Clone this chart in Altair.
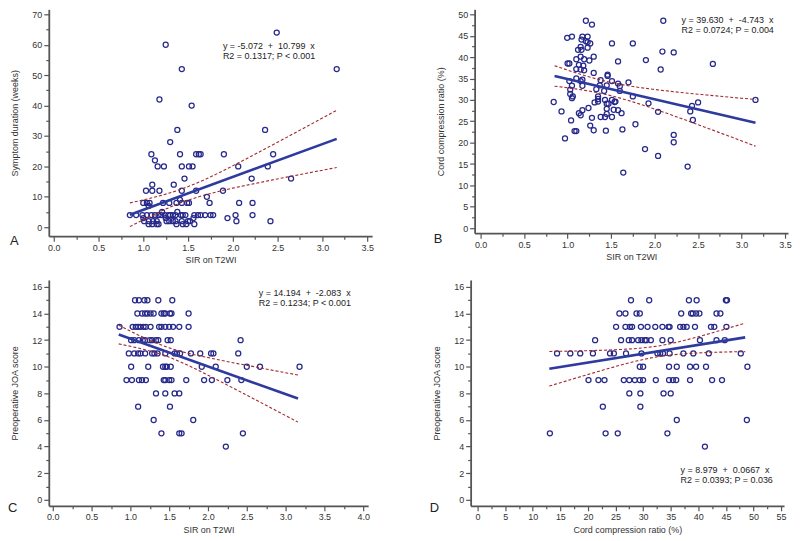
import altair as alt
import pandas as pd

FONT = "Liberation Sans, Arial, sans-serif"
NAVY = "#27298a"
BLUE = "#2e3a9e"
RED = "#a3272b"
TXT = "#333333"

# ---------------- Panel A: SIR vs symptom duration ----------------
A_sir = [2.49, 3.16, 1.25, 1.43, 1.18, 1.54, 1.38, 2.36, 1.30, 1.09, 1.41, 1.59, 1.62, 1.64, 1.90, 2.45,
         1.13, 1.16, 1.23, 1.43, 1.51, 1.55, 2.06, 2.39, 1.46, 2.21, 2.65, 1.10, 1.34, 1.03, 1.10, 1.18,
         1.43, 1.59, 1.89, 1.71, 1.00, 1.04, 1.07, 1.22, 1.29, 1.37, 1.43, 1.49, 1.51, 1.74, 2.07, 2.22,
         1.41, 1.21, 1.38, 1.06,
         0.85, 0.92, 0.99, 1.04, 1.09, 1.13, 1.17, 1.20, 1.24, 1.28, 1.30, 1.33, 1.36, 1.42, 1.44, 1.47,
         1.57, 1.61, 1.64, 1.69, 1.75, 1.78, 2.03, 2.22,
         1.56, 1.94, 1.00, 1.25,
         1.01, 1.06, 1.11, 1.15, 1.26, 1.29, 1.33, 1.36, 1.43, 1.50, 1.52, 2.04, 2.42,
         1.06, 1.10, 1.15, 1.17, 1.37, 1.44, 1.48, 1.57]
A_weeks = [64, 52, 60, 52, 42, 40, 32, 32, 28, 24, 24, 24, 24, 24, 24, 24,
           22, 20, 20, 20, 20, 20, 20, 20, 16, 16, 16, 14, 14, 12, 12, 12,
           12, 12, 12, 10, 8, 8, 8, 8, 8, 8, 8, 8, 8, 8, 8, 8,
           9, 5, 5, 7,
           4, 4, 4, 4, 4, 4, 4, 4, 4, 4, 4, 4, 4, 4, 4, 4,
           4, 4, 4, 4, 4, 4, 4, 4,
           3, 3, 3, 3,
           2, 2, 2, 2, 2, 2, 2, 2, 2, 2, 2, 2, 2,
           1, 1, 1, 1, 1, 1, 1, 1]
A_fit_x = [0.85, 3.16]
A_fit_y = [4.11, 29.05]
A_band_x = [0.85, 1.0, 1.2, 1.45, 1.7, 2.0, 2.3, 2.6, 2.9, 3.16]
A_upper = [8.0, 9.0, 10.47, 12.80, 15.87, 20.21, 24.82, 29.54, 34.31, 38.45]
A_lower = [0.2, 2.46, 5.30, 8.37, 10.70, 12.85, 14.71, 16.47, 18.18, 19.65]
A_text = ["y = -5.072 \u00a0+ \u00a010.799 \u00a0x", "R2 = 0.1317; P < 0.001"]

# ---------------- Panel B: SIR vs cord compression ratio ----------------
B_sir = [1.21, 2.10, 1.28, 0.995, 1.05, 1.17, 1.23, 1.16, 1.21, 1.23, 1.26, 1.51, 1.75,
         1.15, 1.12, 1.16, 1.23, 2.09, 2.22, 1.30, 1.15, 1.19, 1.10, 1.25, 1.58, 1.90,
         1.00, 1.02, 1.13, 1.18, 1.10, 1.15, 1.19, 2.67, 2.07, 1.30, 1.46, 1.46, 1.10,
         1.17, 1.15, 1.02, 1.38, 1.51, 1.58, 1.70, 1.05, 1.17, 1.37, 1.45, 1.60, 1.03,
         1.33, 1.60, 1.42, 1.03, 1.06, 1.05, 1.35, 1.35, 1.43, 1.51, 1.55, 1.35, 1.75,
         0.84, 1.31, 1.45, 1.47, 1.54, 1.93, 2.43, 2.50, 3.16, 1.24, 1.17, 1.13, 1.15,
         1.45, 1.53, 1.58, 1.62, 2.04, 2.41, 0.93, 1.45, 1.38, 1.43, 1.51, 1.28, 1.04,
         2.44, 1.26, 1.78, 1.08, 1.10, 1.30, 1.44, 1.63, 2.22, 2.22, 0.97, 1.89, 2.04,
         2.38, 1.64]
B_ccr = [48.5, 48.5, 47.6, 44.5, 44.8, 44.8, 44.8, 44.1, 43.7, 43.5, 43.2, 43.2, 43.2,
         42.4, 41.7, 41.7, 42.2, 41.3, 41.1, 40.1, 40.1, 39.5, 39.5, 39.2, 39.0, 39.3,
         38.5, 38.5, 38.2, 38.0, 37.2, 37.1, 36.9, 38.4, 37.1, 36.3, 35.9, 35.6, 35.0,
         34.7, 34.4, 34.4, 34.6, 34.4, 33.8, 34.1, 33.3, 33.3, 33.4, 33.4, 33.2, 32.4,
         32.5, 32.1, 32.1, 31.4, 30.8, 30.4, 30.8, 30.2, 30.0, 30.0, 29.6, 29.6, 30.8,
         29.5, 29.4, 29.1, 29.1, 29.5, 29.2, 28.6, 29.4, 30.0, 28.1, 27.6, 26.9, 26.4,
         27.9, 27.7, 27.6, 26.9, 27.2, 27.3, 27.3, 26.7, 26.0, 26.0, 26.0, 25.8, 25.2,
         25.3, 24.0, 24.3, 22.7, 22.7, 22.9, 22.8, 23.1, 21.8, 20.1, 21.0, 18.5, 16.9,
         14.4, 13.0]
B_fit_x = [0.85, 3.16]
B_fit_y = [35.60, 24.64]
B_band_x = [0.85, 1.0, 1.2, 1.45, 1.7, 2.0, 2.3, 2.6, 2.9, 3.16]
B_upper = [38.00, 36.96, 35.66, 34.30, 33.29, 32.43, 31.74, 31.14, 30.57, 30.09]
B_lower = [33.20, 32.82, 32.22, 31.21, 29.85, 27.86, 25.70, 23.46, 21.18, 19.19]
B_text = ["y = 39.630 \u00a0+ \u00a0-4.743 \u00a0x", "R2 = 0.0724; P = 0.004"]

# ---------------- Panel C: SIR vs preoperative JOA ----------------
C_sir = [1.06, 1.11, 1.18, 1.22, 1.36, 1.54,
         1.09, 1.15, 1.19, 1.22, 1.26, 1.30, 1.40, 1.43, 1.45, 1.51, 1.53, 1.75,
         0.86, 1.03, 1.07, 1.10, 1.13, 1.17, 1.20, 1.26, 1.37, 1.40, 1.45, 1.50, 1.55, 1.63, 1.75,
         1.01, 1.05, 1.11, 1.16, 1.19, 1.25, 1.28, 1.33, 1.36, 1.48, 1.52, 2.42,
         0.98, 1.05, 1.10, 1.13, 1.19, 1.28, 1.31, 1.35, 1.45, 1.57, 1.60, 1.64, 1.78, 1.90, 2.04, 2.07, 2.39,
         1.01, 1.23, 1.42, 1.45, 1.47, 1.52, 1.92, 2.10, 2.50, 2.67, 3.18,
         0.95, 1.02, 1.11, 1.15, 1.20, 1.43, 1.45, 1.50, 1.53, 1.72, 1.95, 2.05, 2.25, 2.43,
         1.33, 1.45, 1.57, 1.63,
         1.10, 1.51,
         1.30, 1.81,
         1.40, 1.63, 1.66, 2.45,
         2.23]
C_joa = [15] * 6 + [14] * 12 + [13] * 15 + [12] * 12 + [11] * 17 + [10] * 11 + [9] * 14 + \
        [8] * 4 + [7] * 2 + [6] * 2 + [5] * 4 + [4] * 1
C_fit_x = [0.85, 3.16]
C_fit_y = [12.42, 7.61]
C_band_x = [0.85, 1.0, 1.2, 1.45, 1.7, 2.0, 2.3, 2.6, 2.9, 3.16]
C_upper = [13.12, 12.68, 12.12, 11.52, 11.08, 10.69, 10.33, 10.00, 9.66, 9.38]
C_lower = [11.72, 11.54, 11.26, 10.83, 10.22, 9.37, 8.47, 7.56, 6.64, 5.84]
C_text = ["y = 14.194 \u00a0+ \u00a0-2.083 \u00a0x", "R2 = 0.1234; P < 0.001"]

# ---------------- Panel D: cord compression ratio vs preoperative JOA ----------------
D_ccr = [27.8, 31.1, 38.3, 39.7, 45.0, 45.2,
         25.7, 26.8, 28.8, 29.4, 36.9, 38.7, 39.0, 39.6, 40.2, 43.3, 44.0,
         25.1, 26.8, 27.6, 28.0, 29.6, 30.8, 32.2, 33.5, 34.6, 34.8, 36.7, 37.3, 37.9, 39.4, 42.3, 42.9, 45.1,
         21.3, 26.0, 27.4, 28.0, 29.1, 29.7, 30.3, 30.6, 31.4, 33.5, 35.0, 40.3, 43.3, 44.8,
         14.4, 16.8, 18.6, 20.9, 24.0, 24.7, 26.9, 29.7, 32.6, 33.1, 33.6, 34.8, 37.3, 39.1, 41.9, 47.7,
         29.4, 30.0, 34.7, 36.1, 38.5, 39.6, 41.4, 48.9,
         20.1, 21.9, 23.0, 26.5, 27.5, 28.5, 29.4, 30.0, 32.3, 34.7, 35.4, 36.0, 38.5, 42.5, 44.3,
         27.5, 29.5, 33.7, 35.0,
         22.7, 29.5,
         36.1, 48.8,
         13.1, 23.2, 25.4, 34.4,
         41.2]
D_joa = [15] * 6 + [14] * 11 + [13] * 17 + [12] * 14 + [11] * 16 + [10] * 8 + [9] * 15 + \
        [8] * 4 + [7] * 2 + [6] * 2 + [5] * 4 + [4] * 1
D_fit_x = [13.0, 48.5]
D_fit_y = [9.85, 12.21]
D_band_x = [13, 17, 21, 25, 29, 33, 37, 41, 45, 48.5]
D_upper = [11.15, 11.18, 11.22, 11.28, 11.38, 11.58, 11.93, 12.37, 12.85, 13.28]
D_lower = [8.55, 9.05, 9.54, 10.02, 10.45, 10.78, 10.96, 11.06, 11.11, 11.14]
D_text = ["y = 8.979 \u00a0+ \u00a00.0667 \u00a0x", "R2 = 0.0393; P = 0.036"]

# tick values (major + minor)
SIR_TICKS_35 = [i * 0.25 for i in range(15)]
SIR_TICKS_40 = [i * 0.25 for i in range(17)]
CCR_TICKS = [i * 2.5 for i in range(23)]
WEEK_TICKS = [i * 5 for i in range(15)]
CCR_Y_TICKS = [i * 2.5 for i in range(21)]
JOA_TICKS = list(range(17))


def make_axis(vals, step, fmt, title, is_x, title_pad):
    test = f"abs(datum.value/{step} - round(datum.value/{step})) < 0.001"
    return alt.Axis(
        values=vals,
        title=title,
        labelExpr=f"({test}) ? format(datum.value, '{fmt}') : ''",
        tickSize={"condition": {"test": test, "value": 5}, "value": 3},
        labelOverlap=False,
        labelFlush=False,
        grid=False,
        domainColor="#555555",
        domainWidth=1.8,
        tickColor="#555555",
        tickWidth=1.2,
        labelFont=FONT,
        labelFontSize=9,
        labelColor=TXT,
        labelPadding=2,
        titleFont=FONT,
        titleFontSize=9,
        titleFontWeight="normal",
        titleColor=TXT,
        titlePadding=title_pad,
    )


def panel(xs, ys, fx, fy, bx, bu, bl, xdom, ydom, w, h, xaxis, yaxis, eq, eq_xy, letter, letter_xy):
    xsc = alt.Scale(domain=xdom, nice=False, zero=False)
    ysc = alt.Scale(domain=ydom, nice=False, zero=False)
    X = alt.X("x:Q", scale=xsc, axis=xaxis)
    Y = alt.Y("y:Q", scale=ysc, axis=yaxis)

    pts = alt.Chart(pd.DataFrame({"x": xs, "y": ys})).mark_point(
        shape="circle", filled=False, size=26, strokeWidth=1.25, color=NAVY, opacity=1
    ).encode(x=X, y=Y)

    bands = pd.concat([
        pd.DataFrame({"x": bx, "y": bu, "which": "upper"}),
        pd.DataFrame({"x": bx, "y": bl, "which": "lower"}),
    ])
    band = alt.Chart(bands).mark_line(
        color=RED, strokeWidth=1.1, strokeDash=[3, 2], interpolate="monotone"
    ).encode(x=X, y=Y, detail="which:N")

    fit = alt.Chart(pd.DataFrame({"x": fx, "y": fy})).mark_line(
        color=BLUE, strokeWidth=2.6
    ).encode(x=X, y=Y)

    one = pd.DataFrame({"k": [0]})
    txt = alt.Chart(one).mark_text(
        text=eq, align="left", baseline="top", font=FONT, fontSize=9, lineHeight=10, color="#222222"
    ).encode(x=alt.value(eq_xy[0]), y=alt.value(eq_xy[1]))
    let = alt.Chart(one).mark_text(
        text=letter, align="left", baseline="middle", font=FONT, fontSize=13, color="#222222"
    ).encode(x=alt.value(letter_xy[0]), y=alt.value(letter_xy[1]))

    return alt.layer(pts, band, fit, txt, let).properties(width=w, height=h)


pA = panel(A_sir, A_weeks, A_fit_x, A_fit_y, A_band_x, A_upper, A_lower,
           [-0.0556, 3.5556], [-2.94, 71.64], 325, 228,
           make_axis(SIR_TICKS_35, 0.5, ".1f", "SIR on T2WI", True, 3),
           make_axis(WEEK_TICKS, 10, "d", "Symptom duration (weeks)", False, 12),
           A_text, (175, 33), "A", (-39, 233))

pB = panel(B_sir, B_ccr, B_fit_x, B_fit_y, B_band_x, B_upper, B_lower,
           [-0.069, 3.534], [-1.163, 51.163], 315, 225,
           make_axis(SIR_TICKS_35, 0.5, ".1f", "SIR on T2WI", True, 3),
           make_axis(CCR_Y_TICKS, 5, "d", "Cord compression ratio (%)", False, 12),
           B_text, (208, 7), "B", (-41, 231))

pC = panel(C_sir, C_joa, C_fit_x, C_fit_y, C_band_x, C_upper, C_lower,
           [-0.0513, 4.0641], [-0.449, 16.523], 321, 227,
           make_axis(SIR_TICKS_40, 0.5, ".1f", "SIR on T2WI", True, 4),
           make_axis(JOA_TICKS, 2, "d", "Preoperative JOA score", False, 12),
           C_text, (211, 9), "C", (-41, 229))

pD = panel(D_ccr, D_joa, D_fit_x, D_fit_y, D_band_x, D_upper, D_lower,
           [-1.262, 55.541], [-0.449, 16.523], 315, 227,
           make_axis(CCR_TICKS, 5, "d", "Cord compression ratio (%)", True, 4),
           make_axis(JOA_TICKS, 2, "d", "Preoperative JOA score", False, 12),
           D_text, (211, 187), "D", (-41, 229))

row1 = alt.hconcat(pA, pB, spacing=60)
row2 = alt.hconcat(pC, pD, spacing=60)

chart = alt.vconcat(row1, row2, spacing=16).properties(
    padding=0, background="white"
).configure_view(stroke=None)

chart.save("out.html", embed_options={"renderer": "svg", "actions": False})
